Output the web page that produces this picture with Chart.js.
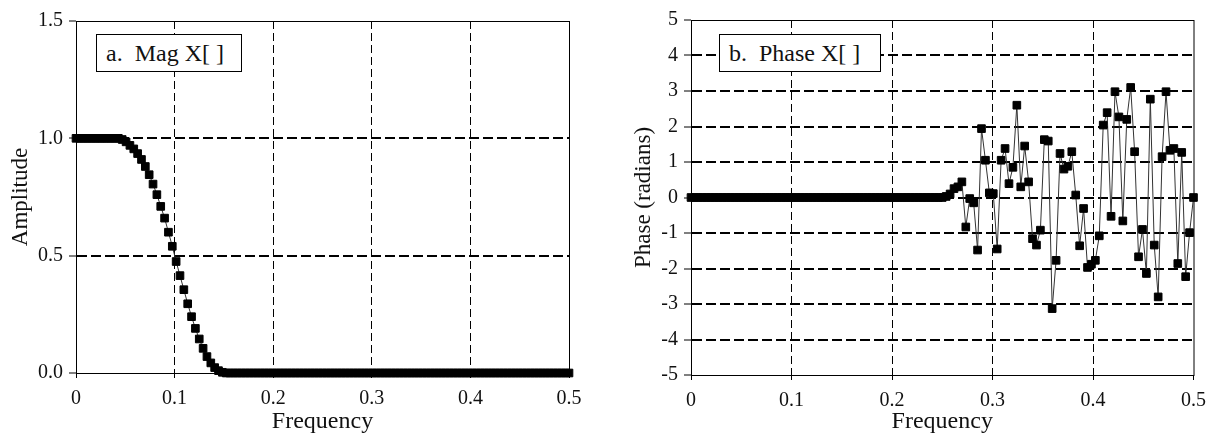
<!DOCTYPE html>
<html>
<head>
<meta charset="utf-8">
<script src="https://cdn.jsdelivr.net/npm/chart.js@4.4.1/dist/chart.umd.min.js"></script>
<style>
  html, body { margin: 0; padding: 0; background: #fff; }
  body { width: 1215px; height: 436px; position: relative; overflow: hidden; }
  .panel { position: absolute; top: 0; height: 436px; }
  #magPanel { left: 0; width: 600px; }
  #phasePanel { left: 600px; width: 615px; }
  .tag {
    position: absolute; top: 34px; height: 36px; box-sizing: content-box;
    background: #fff; border: 1px solid #000; color: #111;
    font-family: "Liberation Serif", "Times New Roman", serif;
    font-size: 24px; line-height: 36px; padding-left: 9px; white-space: pre; z-index: 2;
  }
  #magTag { left: 96px; width: 135px; }
  #phaseTag { left: 119px; width: 151px; }
</style>
</head>
<body>
<div class="panel" id="magPanel">
  <canvas id="magChart" width="600" height="436"></canvas>
  <div class="tag" id="magTag">a.  Mag X[ ]</div>
</div>
<div class="panel" id="phasePanel">
  <canvas id="phaseChart" width="615" height="436"></canvas>
  <div class="tag" id="phaseTag">b.  Phase X[ ]</div>
</div>
<script>
// 256 point DFT, bins 0..128 cover 0 to 0.5 of the sampling rate
const BINS = 256;

const magValues = [
  1, 1, 1, 1, 1, 1, 1, 1, 1, 1, 1, 1, 0.995, 0.985, 0.97, 0.955,
  0.935, 0.91, 0.88, 0.845, 0.805, 0.76, 0.71, 0.66, 0.6, 0.54, 0.475, 0.415, 0.355, 0.295, 0.24, 0.19,
  0.145, 0.105, 0.07, 0.043, 0.023, 0.01, 0.003, 0, 0, 0, 0, 0, 0, 0, 0, 0,
  0, 0, 0, 0, 0, 0, 0, 0, 0, 0, 0, 0, 0, 0, 0, 0,
  0, 0, 0, 0, 0, 0, 0, 0, 0, 0, 0, 0, 0, 0, 0, 0,
  0, 0, 0, 0, 0, 0, 0, 0, 0, 0, 0, 0, 0, 0, 0, 0,
  0, 0, 0, 0, 0, 0, 0, 0, 0, 0, 0, 0, 0, 0, 0, 0,
  0, 0, 0, 0, 0, 0, 0, 0, 0, 0, 0, 0, 0, 0, 0, 0,
  0
];

// phase is only noise once the magnitude has dropped to nothing
const phaseValues = [
  0, 0, 0, 0, 0, 0, 0, 0, 0, 0, 0, 0, 0, 0, 0, 0,
  0, 0, 0, 0, 0, 0, 0, 0, 0, 0, 0, 0, 0, 0, 0, 0,
  0, 0, 0, 0, 0, 0, 0, 0, 0, 0, 0, 0, 0, 0, 0, 0,
  0, 0, 0, 0, 0, 0, 0, 0, 0, 0, 0, 0, 0, 0, 0, 0,
  0, 0.03, 0.1, 0.25, 0.3, 0.44, -0.83, -0.03, -0.15, -1.48, 1.94, 1.05, 0.13, 0.11, -1.45, 1.05,
  1.38, 0.39, 0.85, 2.6, 0.3, 1.45, 0.44, -1.16, -1.34, -0.92, 1.63, 1.59, -3.13, -1.77, 1.24, 0.8,
  0.88, 1.29, 0.07, -1.36, -0.31, -1.97, -1.88, -1.77, -1.08, 2.04, 2.39, -0.53, 2.98, 2.27, -0.66, 2.2,
  3.1, 1.29, -1.67, -0.9, -2.14, 2.77, -1.34, -2.8, 1.15, 2.98, 1.33, 1.38, -1.86, 1.27, -2.23, -0.99,
  0
];

const freqTicks = [0, 0.1, 0.2, 0.3, 0.4, 0.5];
const magTicks = [0, 0.5, 1.0, 1.5];
const phaseTicks = [-5, -4, -3, -2, -1, 0, 1, 2, 3, 4, 5];

const SERIF = "'Liberation Serif', 'Times New Roman', serif";
const INK = "#111";

const freq = magValues.map((_, k) => k / BINS);

// edges of the plot get the solid frame instead of a dashed line
const gridColor = (c) =>
  c.tick && (c.tick.value === c.scale.min || c.tick.value === c.scale.max) ? "rgba(0,0,0,0)" : "#000";

const frame = {
  id: "frame",
  beforeDatasetsDraw(chart) {
    const { ctx, chartArea: a } = chart;
    ctx.save();
    ctx.strokeStyle = "#000";
    ctx.lineWidth = 1;
    ctx.strokeRect(a.left + 0.5, a.top + 0.5, a.right - a.left, a.bottom - a.top);
    ctx.restore();
  }
};

function makePanel(id, values, p) {
  return new Chart(document.getElementById(id), {
    type: "line",
    data: {
      datasets: [{
        data: freq.map((f, k) => ({ x: f, y: values[k] })),
        borderColor: "#333",
        borderWidth: 1,
        pointStyle: "rect",
        pointRadius: 5.4,
        pointBackgroundColor: "#000",
        pointBorderColor: "#000",
        pointBorderWidth: 1,
        tension: 0,
        clip: false
      }]
    },
    options: {
      responsive: false,
      animation: false,
      events: [],
      layout: { padding: { top: p.top, right: p.right, left: 0, bottom: 0 } },
      plugins: { legend: { display: false }, tooltip: { enabled: false } },
      scales: {
        x: {
          type: "linear",
          min: 0,
          max: 0.5,
          afterBuildTicks: (s) => { s.ticks = freqTicks.map((v) => ({ value: v })); },
          afterFit: (s) => { s.height = p.xHeight; },
          ticks: {
            autoSkip: false, maxRotation: 0, padding: 9, color: INK,
            font: { family: SERIF, size: 20 },
            callback: (v) => String(v)
          },
          grid: {
            color: gridColor, lineWidth: 1, tickLength: 5,
            tickColor: "#000", tickWidth: 1, tickBorderDash: []
          },
          border: { display: true, color: "#000", width: 1, dash: [8, 4] },
          title: {
            display: true, text: "Frequency", color: INK,
            font: { family: SERIF, size: 24, lineHeight: 1 },
            padding: { top: 0, bottom: 2 }
          }
        },
        y: {
          type: "linear",
          min: p.yTicks[0],
          max: p.yTicks[p.yTicks.length - 1],
          afterBuildTicks: (s) => { s.ticks = p.yTicks.map((v) => ({ value: v })); },
          afterFit: (s) => { s.width = p.yWidth; },
          ticks: {
            padding: 6, color: INK,
            font: { family: SERIF, size: 20 },
            callback: p.yFormat
          },
          grid: {
            color: gridColor, lineWidth: 2, tickLength: 7,
            tickColor: "#000", tickWidth: 1, tickBorderDash: []
          },
          border: { display: true, color: "#000", width: 1, dash: [10, 4] },
          title: {
            display: true, text: p.yTitle, color: INK,
            font: { family: SERIF, size: 23, lineHeight: 1 },
            padding: { top: p.yTitlePad, bottom: 0 }
          }
        }
      }
    },
    plugins: [frame]
  });
}

makePanel("magChart", magValues, {
  top: 21, right: 31, xHeight: 63, yWidth: 76,
  yTicks: magTicks, yFormat: (v) => v.toFixed(1),
  yTitle: "Amplitude", yTitlePad: 9
});

makePanel("phaseChart", phaseValues, {
  top: 20, right: 21, xHeight: 61, yWidth: 91,
  yTicks: phaseTicks, yFormat: (v) => String(v),
  yTitle: "Phase (radians)", yTitlePad: 32
});
</script>
</body>
</html>
